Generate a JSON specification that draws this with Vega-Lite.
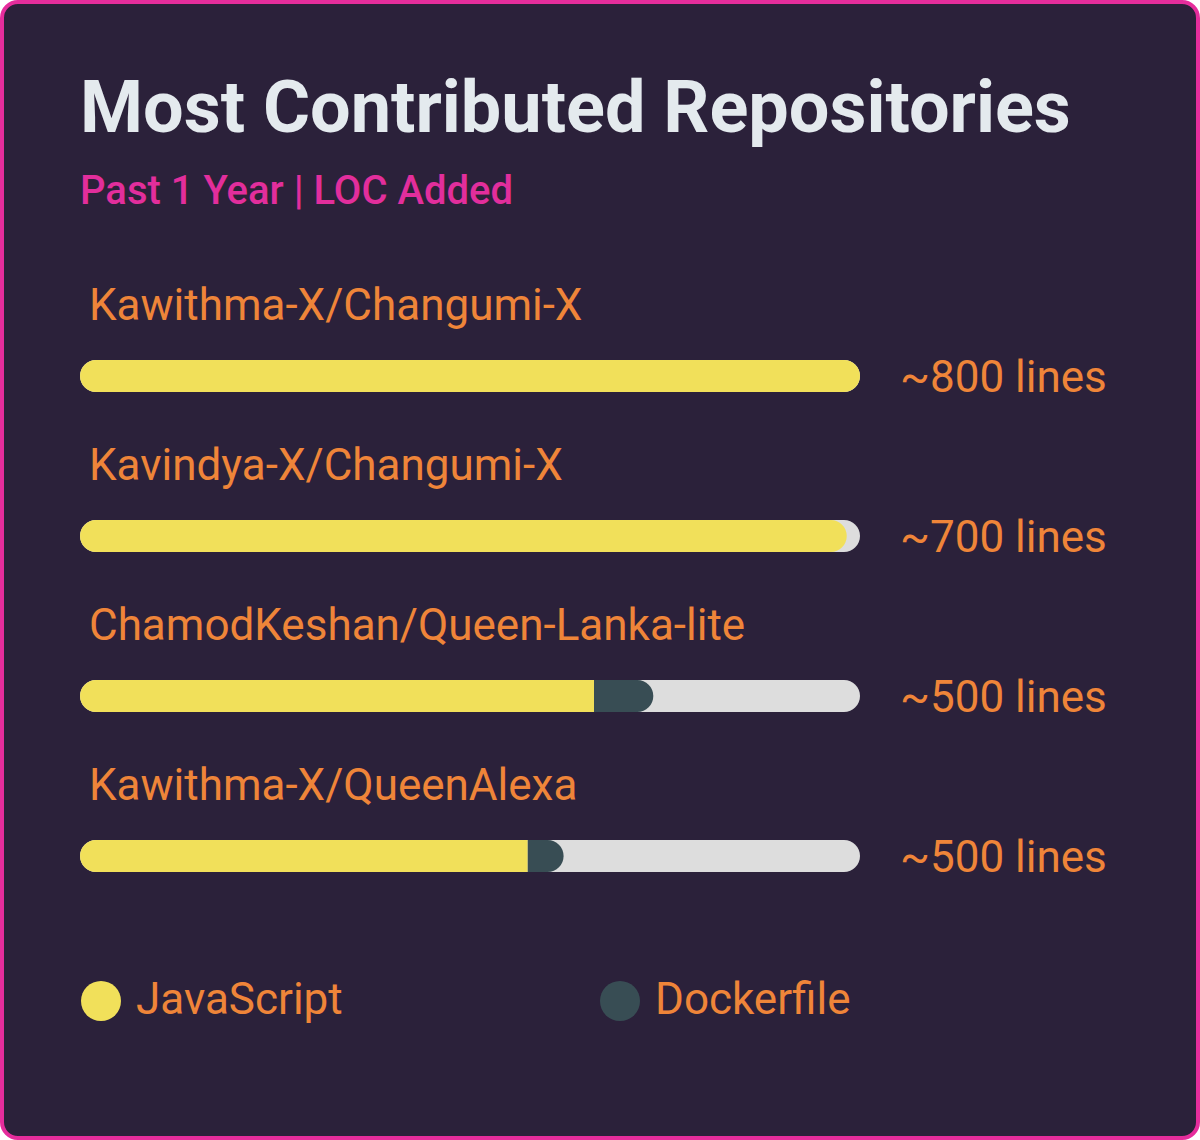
{
  "$schema": "https://vega.github.io/schema/vega-lite/v6.json",
  "width": 1196,
  "height": 1136,
  "padding": 2,
  "autosize": {"type": "none"},
  "background": "#ffffff",
  "view": {"fill": "#2b213a", "stroke": "#e52d9c", "strokeWidth": 4, "cornerRadius": 16},
  "title": {
    "text": "Most Contributed Repositories",
    "subtitle": "Past 1 Year | LOC Added",
    "anchor": "start",
    "frame": "group",
    "orient": "top",
    "dx": 78,
    "dy": 215,
    "font": "Roboto",
    "fontSize": 72,
    "fontWeight": "bold",
    "color": "#e4eaee",
    "subtitleFont": "Roboto",
    "subtitleFontSize": 40,
    "subtitleFontWeight": 500,
    "subtitleColor": "#e22e9c",
    "subtitlePadding": 25
  },
  "datasets": {
    "segments": [
      {"repo": "Kawithma-X/Changumi-X", "lang": "JavaScript", "pct": 100},
      {"repo": "Kavindya-X/Changumi-X", "lang": "JavaScript", "pct": 98.3},
      {"repo": "ChamodKeshan/Queen-Lanka-lite", "lang": "JavaScript", "pct": 65.9},
      {"repo": "ChamodKeshan/Queen-Lanka-lite", "lang": "Dockerfile", "pct": 7.6},
      {"repo": "Kawithma-X/QueenAlexa", "lang": "JavaScript", "pct": 57.4},
      {"repo": "Kawithma-X/QueenAlexa", "lang": "Dockerfile", "pct": 4.6}
    ],
    "repos": [
      {"repo": "Kawithma-X/Changumi-X", "lines": "~800 lines"},
      {"repo": "Kavindya-X/Changumi-X", "lines": "~700 lines"},
      {"repo": "ChamodKeshan/Queen-Lanka-lite", "lines": "~500 lines"},
      {"repo": "Kawithma-X/QueenAlexa", "lines": "~500 lines"}
    ]
  },
  "encoding": {
    "y": {
      "field": "repo",
      "type": "nominal",
      "scale": {
        "domain": ["Kawithma-X/Changumi-X", "Kavindya-X/Changumi-X", "ChamodKeshan/Queen-Lanka-lite", "Kawithma-X/QueenAlexa"],
        "range": [294, 934],
        "paddingInner": 0,
        "paddingOuter": 0
      },
      "axis": null
    }
  },
  "layer": [
    {
      "data": {"name": "repos"},
      "mark": {"type": "bar", "height": 32, "cornerRadius": 16, "color": "#dddddd"},
      "encoding": {
        "x": {"datum": 0, "type": "quantitative", "scale": {"domain": [0, 100], "range": [78, 858], "zero": false, "nice": false}, "axis": null},
        "x2": {"datum": 100}
      }
    },
    {
      "data": {"name": "segments"},
      "transform": [
        {"stack": "pct", "groupby": ["repo"], "sort": [{"field": "lang", "order": "descending"}], "as": ["seg_start", "seg_end"]},
        {"joinaggregate": [{"op": "max", "field": "seg_end", "as": "total"}], "groupby": ["repo"]}
      ],
      "encoding": {
        "x": {"field": "seg_start", "type": "quantitative"},
        "x2": {"field": "seg_end"},
        "color": {
          "field": "lang",
          "type": "nominal",
          "scale": {"domain": ["JavaScript", "Dockerfile"], "range": ["#f1e05a", "#384d54"]},
          "legend": {
            "title": null,
            "orient": "none",
            "legendX": 77,
            "legendY": 977,
            "direction": "horizontal",
            "symbolType": "circle",
            "symbolSize": 1600,
            "symbolStrokeWidth": 0,
            "symbolOpacity": 1,
            "labelFont": "Roboto",
            "labelFontSize": 44,
            "labelColor": "#ef8539",
            "labelOffset": 13,
            "columnPadding": 255,
            "labelLimit": 400
          }
        }
      },
      "layer": [
        {
          "transform": [{"filter": "datum.seg_start == 0 && datum.seg_end >= datum.total"}],
          "mark": {"type": "bar", "height": 32, "cornerRadius": 16}
        },
        {
          "transform": [{"filter": "datum.seg_start == 0 && datum.seg_end < datum.total"}],
          "mark": {"type": "bar", "height": 32, "cornerRadiusTopLeft": 16, "cornerRadiusBottomLeft": 16}
        },
        {
          "transform": [{"filter": "datum.seg_start > 0 && datum.seg_end >= datum.total"}],
          "mark": {"type": "bar", "height": 32, "cornerRadiusTopRight": 16, "cornerRadiusBottomRight": 16}
        }
      ]
    },
    {
      "data": {"name": "repos"},
      "mark": {"type": "text", "align": "left", "baseline": "alphabetic", "dx": 9, "dy": -56, "font": "Roboto", "fontSize": 44, "color": "#ef8539"},
      "encoding": {
        "x": {"datum": 0, "type": "quantitative"},
        "text": {"field": "repo"}
      }
    },
    {
      "data": {"name": "repos"},
      "mark": {"type": "text", "align": "left", "baseline": "alphabetic", "dx": 40, "dy": 16, "font": "Roboto", "fontSize": 44, "color": "#ef8539"},
      "encoding": {
        "x": {"datum": 100, "type": "quantitative"},
        "text": {"field": "lines"}
      }
    }
  ]
}
